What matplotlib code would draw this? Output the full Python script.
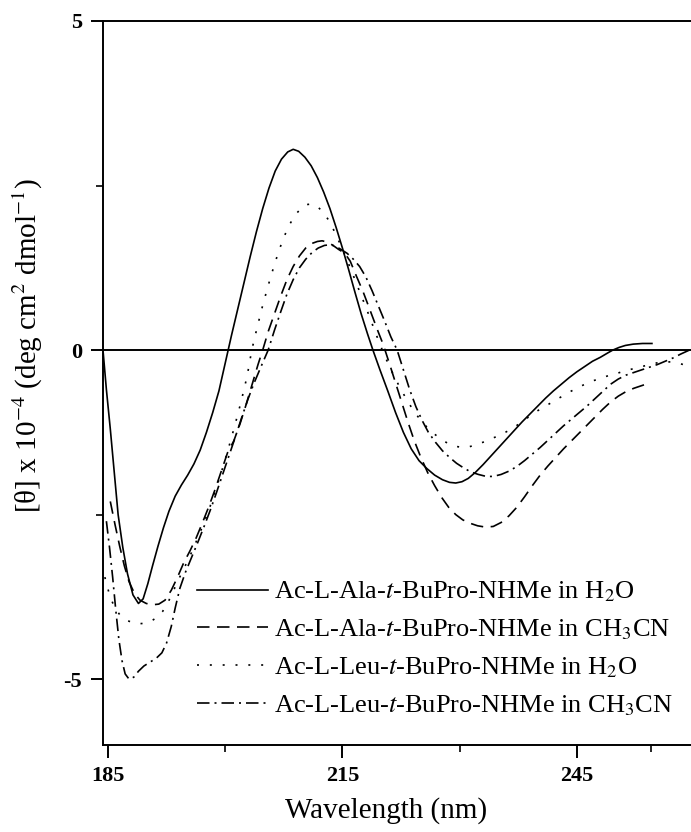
#=== CD spectra of Ac-L-Xaa-t-BuPro-NHMe ===#
import numpy as np
import matplotlib
matplotlib.use('Agg')
import matplotlib.pyplot as plt

plt.rcParams['font.family'] = ['Liberation Serif', 'DejaVu Serif']
plt.rcParams['mathtext.fontset'] = 'stix'

#=== Data ===#
# Ac-L-Ala-t-BuPro-NHMe in H2O
ala_h2o_x = [184.4, 184.8, 185.3, 185.8, 186.3, 186.9, 187.5, 188.2, 188.9, 189.5, 190.1, 190.7,
             191.4, 192.1, 192.8, 193.6, 194.4, 195.2, 196.0, 196.8, 197.6, 198.4, 199.2, 200.0,
             200.8, 201.6, 202.4, 203.2, 204.0, 204.8, 205.6, 206.4, 207.2, 208.0, 208.7, 209.4,
             210.2, 211.0, 211.8, 212.6, 213.4, 214.2, 215.0, 215.8, 216.6, 217.4, 218.2, 218.9,
             219.8, 220.8, 221.8, 222.8, 223.8, 224.8, 225.8, 226.8, 227.8, 228.7, 229.5, 230.3,
             231.1, 232.0, 233.0, 234.0, 235.0, 236.0, 237.0, 238.0, 239.0, 240.0, 241.0, 242.0,
             243.0, 244.0, 245.0, 246.0, 247.0, 248.0, 249.0, 249.6, 250.4, 251.2, 252.2, 253.4,
             254.6]
ala_h2o_y = [-0.05, -0.6, -1.2, -1.85, -2.5, -3.0, -3.4, -3.72, -3.85, -3.78, -3.55, -3.28,
             -2.98, -2.7, -2.45, -2.22, -2.05, -1.9, -1.73, -1.52, -1.25, -0.95, -0.62, -0.2,
             0.22, 0.62, 1.02, 1.42, 1.8, 2.15, 2.46, 2.72, 2.9, 3.01, 3.05, 3.02,
             2.93, 2.8, 2.62, 2.4, 2.15, 1.86, 1.55, 1.22, 0.88, 0.55, 0.25, 0.0,
             -0.3, -0.62, -0.95, -1.25, -1.5, -1.68, -1.8, -1.9, -1.97, -2.01, -2.02, -2.0,
             -1.95, -1.86, -1.74, -1.61, -1.48, -1.35, -1.22, -1.09, -0.97, -0.85, -0.73, -0.62,
             -0.52, -0.42, -0.33, -0.25, -0.17, -0.11, -0.04, 0.0, 0.04, 0.07, 0.09, 0.1,
             0.1]

# Ac-L-Ala-t-BuPro-NHMe in CH3CN
ala_cn_x = [185.3, 185.9, 186.5, 187.1, 187.7, 188.4, 189.1, 189.9, 190.7, 191.5, 192.3, 193.1,
            193.9, 194.7, 195.5, 196.3, 197.1, 197.9, 198.7, 199.5, 200.3, 201.1, 201.9, 202.7,
            203.5, 204.2, 204.8, 205.5, 206.3, 207.1, 207.9, 208.7, 209.5, 210.3, 211.1, 211.8,
            212.4, 213.1, 213.8, 214.5, 215.3, 216.0, 216.8, 217.6, 218.3, 218.9, 219.6, 220.2,
            221.0, 221.8, 222.6, 223.4, 224.2, 225.0, 225.9, 226.8, 227.7, 228.6, 229.5, 230.4,
            231.3, 232.3, 233.3, 234.3, 235.3, 236.3, 237.3, 238.3, 239.3, 240.3, 241.3, 242.3,
            243.3, 244.3, 245.3, 246.3, 247.3, 248.3, 249.3, 250.3, 251.3, 252.3, 253.3, 254.3]
ala_cn_y = [-2.3, -2.65, -2.98, -3.28, -3.52, -3.7, -3.8, -3.85, -3.87, -3.86, -3.8, -3.65,
            -3.45, -3.23, -3.05, -2.85, -2.62, -2.38, -2.12, -1.84, -1.56, -1.38, -1.12, -0.82,
            -0.5, -0.22, 0.0, 0.28, 0.55, 0.82, 1.07, 1.27, 1.43, 1.55, 1.62, 1.65,
            1.66, 1.64, 1.59, 1.53, 1.47, 1.35, 1.12, 0.9, 0.68, 0.49, 0.27, 0.09,
            -0.2, -0.5, -0.8, -1.1, -1.38, -1.62, -1.86, -2.06, -2.24, -2.39, -2.5, -2.58,
            -2.63, -2.67, -2.69, -2.68, -2.62, -2.52, -2.39, -2.23, -2.06, -1.9, -1.76, -1.63,
            -1.5, -1.38, -1.26, -1.14, -1.02, -0.9, -0.79, -0.7, -0.63, -0.58, -0.54, -0.5]

# Ac-L-Leu-t-BuPro-NHMe in H2O
leu_h2o_x = [184.6, 185.2, 185.8, 186.5, 187.3, 188.1, 188.9, 189.7, 190.5, 191.3, 192.0, 192.7,
             193.4, 194.1, 194.8, 195.6, 196.4, 197.2, 198.0, 198.8, 199.6, 200.4, 201.2, 202.0,
             202.8, 203.4, 204.1, 204.8, 205.5, 206.2, 206.9, 207.6, 208.3, 209.0, 209.7, 210.4,
             211.1, 211.8, 212.5, 213.2, 213.9, 214.6, 215.3, 216.0, 216.7, 217.4, 218.1, 218.8,
             219.5, 220.1, 220.9, 221.7, 222.5, 223.3, 224.1, 224.9, 225.8, 226.7, 227.6, 228.5,
             229.4, 230.3, 231.2, 232.1, 233.0, 234.0, 235.0, 236.0, 237.0, 238.0, 239.0, 240.0,
             241.0, 242.0, 243.0, 244.0, 245.0, 246.0, 247.0, 248.0, 249.0, 250.0, 251.0, 252.0,
             253.0, 254.0, 255.0, 256.0, 257.0, 258.0, 258.6]
leu_h2o_y = [-3.45, -3.72, -3.9, -4.02, -4.1, -4.14, -4.16, -4.15, -4.12, -4.06, -3.97, -3.83,
             -3.65, -3.47, -3.3, -3.1, -2.88, -2.65, -2.4, -2.12, -1.82, -1.5, -1.16, -0.8,
             -0.4, 0.0, 0.35, 0.68, 0.98, 1.26, 1.52, 1.74, 1.92, 2.06, 2.15, 2.21,
             2.22, 2.18, 2.1, 1.98, 1.82, 1.64, 1.45, 1.25, 1.04, 0.83, 0.62, 0.4,
             0.18, 0.0, -0.22, -0.42, -0.6, -0.77, -0.92, -1.05, -1.17, -1.27, -1.35, -1.42,
             -1.46, -1.48, -1.47, -1.44, -1.4, -1.35, -1.3, -1.24, -1.17, -1.09, -1.0, -0.92,
             -0.85, -0.78, -0.71, -0.64, -0.58, -0.52, -0.47, -0.43, -0.39, -0.36, -0.32, -0.29,
             -0.26, -0.23, -0.2, -0.18, -0.18, -0.2, -0.22]

# Ac-L-Leu-t-BuPro-NHMe in CH3CN
leu_cn_x = [184.8, 185.2, 185.6, 186.0, 186.4, 186.8, 187.2, 187.7, 188.3, 188.9, 189.6, 190.4,
            191.2, 191.9, 192.5, 193.1, 193.6, 194.2, 194.9, 195.7, 196.5, 197.3, 198.1, 198.9,
            199.7, 200.5, 201.3, 202.1, 202.9, 203.7, 204.7, 205.5, 206.3, 207.1, 207.9, 208.7,
            209.5, 210.3, 211.1, 211.9, 212.7, 213.4, 214.1, 214.8, 215.6, 216.4, 217.2, 218.0,
            218.8, 219.6, 220.4, 221.2, 222.0, 222.8, 223.6, 224.4, 225.2, 226.0, 226.9, 227.8,
            228.7, 229.6, 230.5, 231.4, 232.4, 233.4, 234.3, 235.3, 236.3, 237.3, 238.3, 239.3,
            240.3, 241.3, 242.3, 243.3, 244.3, 245.3, 246.3, 247.3, 248.3, 249.3, 250.3, 251.3,
            252.3, 253.3, 254.3, 255.3, 256.3, 257.3, 258.3, 259.4]
leu_cn_y = [-2.6, -3.0, -3.45, -3.95, -4.4, -4.72, -4.92, -5.0, -4.97, -4.88, -4.8, -4.74,
            -4.68, -4.6, -4.45, -4.2, -3.92, -3.62, -3.38, -3.15, -2.92, -2.68, -2.43, -2.16,
            -1.88, -1.6, -1.32, -1.03, -0.75, -0.5, -0.22, 0.0, 0.3, 0.58, 0.85, 1.07,
            1.25, 1.38, 1.48, 1.55, 1.59, 1.6, 1.58, 1.53, 1.47, 1.38, 1.27, 1.11,
            0.9, 0.67, 0.44, 0.2, 0.0, -0.3, -0.6, -0.86, -1.07, -1.25, -1.4, -1.53,
            -1.63, -1.72, -1.79, -1.85, -1.89, -1.92, -1.92, -1.89, -1.84, -1.77, -1.68, -1.58,
            -1.48, -1.37, -1.26, -1.15, -1.05, -0.95, -0.85, -0.74, -0.63, -0.52, -0.44, -0.38,
            -0.34, -0.3, -0.26, -0.22, -0.17, -0.12, -0.06, 0.0]

labels = ["Ac-L-Ala-$t$-BuPro-NHMe in H$_2$O",
          "Ac-L-Ala-$t$-BuPro-NHMe in CH$_3$CN",
          "Ac-L-Leu-$t$-BuPro-NHMe in H$_2$O",
          "Ac-L-Leu-$t$-BuPro-NHMe in CH$_3$CN"]

#=== Figure ===#
fig = plt.figure(figsize=(6.91, 8.32), dpi=100)
ax = fig.add_axes([0.149, 0.1046, 0.851, 0.8702])

lw = 1.2
ax.plot(ala_h2o_x, ala_h2o_y, color='black', lw=lw, linestyle='-', label=labels[0])
ax.plot(ala_cn_x, ala_cn_y, color='black', lw=lw, linestyle=(0, (7.5, 4.5)), label=labels[1])
ax.plot(leu_h2o_x, leu_h2o_y, color='black', lw=lw, linestyle=(0, (1.2, 6.5)), label=labels[2])
ax.plot(leu_cn_x, leu_cn_y, color='black', lw=lw, linestyle=(0, (7.5, 3, 1.2, 3)), label=labels[3])

ax.axhline(0, color='black', lw=1.4)

ax.set_xlim(184.36, 259.6)
ax.set_ylim(-6, 5)

#=== Axes styling ===#
ax.spines['right'].set_visible(False)
for s in ['left', 'bottom', 'top']:
    ax.spines[s].set_linewidth(1.4)

ax.set_xticks([185, 215, 245])
ax.set_xticks([200, 230, 254.5], minor=True)
ax.set_yticks([-5, 0, 5])
ax.set_yticks([-2.5, 2.5], minor=True)
ax.set_yticklabels(['-5', '0', '5'])
ax.tick_params(which='major', direction='out', length=9, width=1.4, labelsize=16, pad=6)
ax.tick_params(which='minor', direction='out', length=5, width=1.2)
ax.tick_params(top=False, right=False)
for t in ax.get_xticklabels() + ax.get_yticklabels():
    t.set_fontweight('bold')

ax.set_xlabel("Wavelength (nm)", fontsize=21)
ax.xaxis.set_label_coords(0.481, -0.072)
ax.set_ylabel("[θ] x 10$^{-4}$ (deg cm$^2$ dmol$^{-1}$)", fontsize=21)
ax.yaxis.set_label_coords(-0.098, 0.552)

leg = ax.legend(loc='upper left', bbox_to_anchor=(0.16, 0.228), frameon=False, fontsize=19,
                handlelength=2.7, handletextpad=0.2, labelspacing=0.5, borderpad=0,
                borderaxespad=0)

fig.savefig("out.png", dpi=100)
